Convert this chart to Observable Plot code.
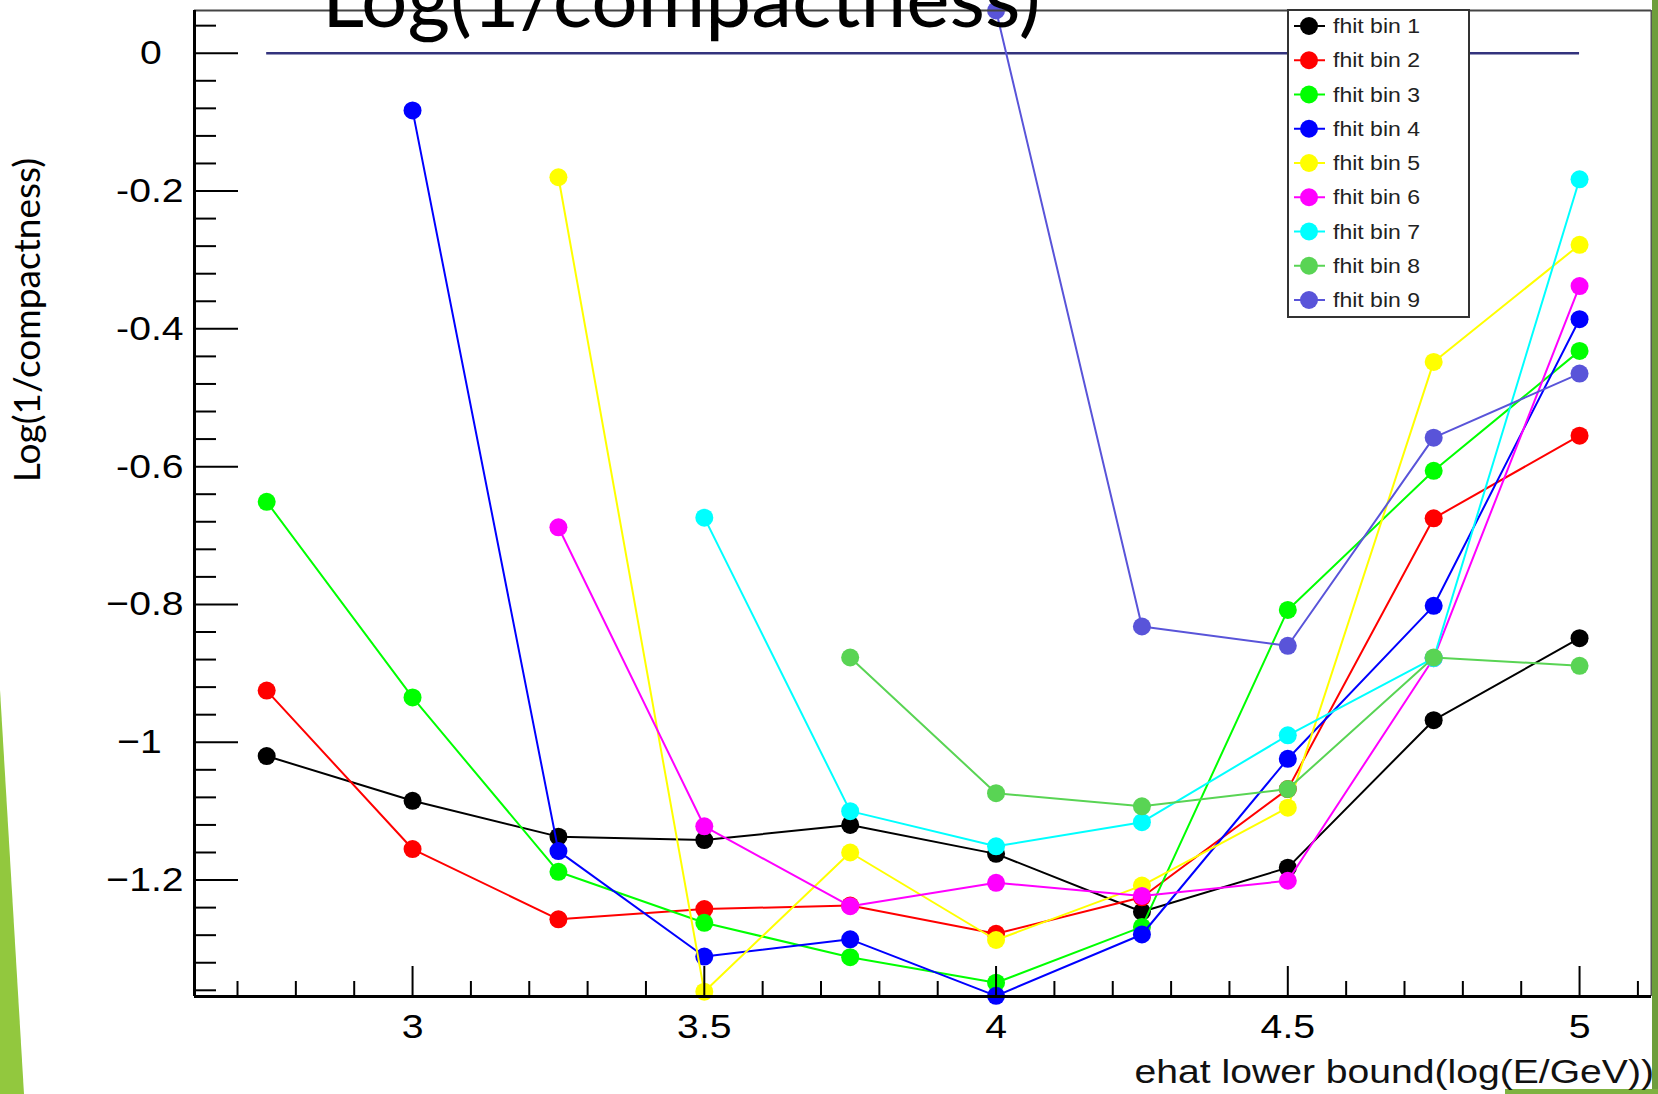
<!DOCTYPE html>
<html><head><meta charset="utf-8">
<script src="https://cdn.jsdelivr.net/npm/d3@7"></script>
<script src="https://cdn.jsdelivr.net/npm/@observablehq/plot@0.6"></script>
<style>
html,body{margin:0;padding:0;background:#fff;}
#wrap{position:relative;width:1658px;height:1094px;overflow:hidden;background:#fff;}
#wrap > svg{position:absolute;left:0;top:0;}
</style></head><body><div id="wrap"></div>
<script>
// ---- data ----
const xValues = [2.75, 3, 3.25, 3.5, 3.75, 4, 4.25, 4.5, 4.75, 5];
const bin1 = [-1.020, -1.085, -1.137, -1.142, -1.120, -1.162, -1.246, -1.182, -0.968, -0.849];
const bin2 = [-0.925, -1.155, -1.257, -1.242, -1.237, -1.278, -1.225, -1.068, -0.675, -0.555];
const bin3 = [-0.651, -0.935, -1.188, -1.262, -1.312, -1.349, -1.268, -0.808, -0.606, -0.432];
const bin4 = [null, -0.083, -1.158, -1.311, -1.286, -1.368, -1.279, -1.024, -0.802, -0.386];
const bin5 = [null, null, -0.180, -1.362, -1.160, -1.287, -1.208, -1.095, -0.448, -0.278];
const bin6 = [null, null, -0.688, -1.122, -1.238, -1.204, -1.223, -1.201, -0.878, -0.338];
const bin7 = [null, null, null, -0.674, -1.100, -1.151, -1.116, -0.990, -0.878, -0.183];
const bin8 = [null, null, null, null, -0.877, -1.074, -1.093, -1.068, -0.877, -0.889];
const bin9 = [null, null, null, null, null, 0.062, -0.832, -0.860, -0.558, -0.465];
const seriesNames = ["fhit bin 1","fhit bin 2","fhit bin 3","fhit bin 4","fhit bin 5","fhit bin 6","fhit bin 7","fhit bin 8","fhit bin 9"];
const seriesColors = ["#000000","#ff0000","#00ff00","#0000ff","#ffff00","#ff00ff","#00ffff","#59d454","#5954d9"];
const refLine = [{y: 0, x1: 2.75, x2: 5}];
const yTicks = [0, -0.2, -0.4, -0.6, -0.8, -1, -1.2];
const yTickLabels = ["0\u2007", "-0.2", "-0.4", "-0.6", "\u22120.8", "\u22121\u2007", "\u22121.2"];
const xTicks = [3, 3.5, 4, 4.5, 5];
const xTickLabels = ["3", "3.5", "4", "4.5", "5"];
const chartTitle = "Log(1/compactness)";
const yTitle = "Log(1/compactness)";
const xTitle = "ehat lower bound(log(E/GeV))";

// ---- layout ----
const W = 1658, H = 1094, mt = 10, mb = 98, ml = 194, mr = 7;
const innerW = W - ml - mr, innerH = H - mt - mb;
const xDomain = [2.6263, 5.1233];
const yDomain = [-1.369, 0.062];
const yMinor = d3.range(0.04, -1.37, -0.04).map(v => +v.toFixed(2)).filter(v => !yTicks.some(t => Math.abs(t - v) < 1e-6));
const xMinor = d3.range(2.7, 5.11, 0.1).map(v => +v.toFixed(1)).filter(v => !xTicks.some(t => Math.abs(t - v) < 1e-6));

const series = [bin1, bin2, bin3, bin4, bin5, bin6, bin7, bin8, bin9];
const rows = series.flatMap((vals, i) => vals.map((v, j) => ({x: xValues[j], y: v, s: seriesNames[i]})).filter(d => d.y != null));

const seriesMarks = seriesNames.flatMap((name, i) => {
  const d = rows.filter(r => r.s === name);
  return [
    Plot.line(d, {x: "x", y: "y", stroke: seriesColors[i], strokeWidth: 2}),
    Plot.dot(d, {x: "x", y: "y", r: 9, fill: seriesColors[i], stroke: "none"})
  ];
});

const chart = Plot.plot({
  width: W, height: H,
  marginTop: mt, marginBottom: mb, marginLeft: ml, marginRight: mr,
  x: {domain: xDomain},
  y: {domain: yDomain},
  style: {fontFamily: "'Liberation Sans', Arial, sans-serif", background: "transparent", color: "#000"},
  marks: [
    Plot.ruleY(refLine, {y: "y", x1: "x1", x2: "x2", stroke: "#33337d", strokeWidth: 2.5}),
    ...seriesMarks,
    Plot.ruleY(yMinor, {y: d => d, insetRight: innerW - 22, stroke: "#000", strokeWidth: 2}),
    Plot.ruleY(yTicks, {y: d => d, insetRight: innerW - 44, stroke: "#000", strokeWidth: 2}),
    Plot.ruleX(xMinor, {x: d => d, insetTop: innerH - 15, stroke: "#000", strokeWidth: 2}),
    Plot.ruleX(xTicks, {x: d => d, insetTop: innerH - 30, stroke: "#000", strokeWidth: 2}),
    Plot.ruleY([yDomain[1]], {stroke: "#444", strokeWidth: 2}),
    Plot.ruleX([xDomain[1]], {stroke: "#555", strokeWidth: 2}),
    Plot.ruleX([xDomain[0]], {stroke: "#000", strokeWidth: 3}),
    Plot.ruleY([yDomain[0]], {stroke: "#000", strokeWidth: 3}),
    Plot.axisY(yTicks, {tickSize: 0, tickPadding: 11, fontSize: 34, label: null, tickFormat: d => yTickLabels[yTicks.indexOf(d)]}),
    Plot.axisX(xTicks, {tickSize: 0, tickPadding: 17, fontSize: 34, label: null, tickFormat: d => xTickLabels[xTicks.indexOf(d)]})
  ]
});
const wrap = document.getElementById("wrap");
wrap.appendChild(chart);

// stretch tick labels horizontally like the reference
const STRETCH = 1.15;
chart.querySelectorAll('g[aria-label="x-axis tick label"] text, g[aria-label="y-axis tick label"] text').forEach(t => {
  const len = t.getComputedTextLength();
  t.setAttribute("textLength", (len * STRETCH).toFixed(1));
  t.setAttribute("lengthAdjust", "spacingAndGlyphs");
});

// ---- overlay: titles, legend, slide decoration ----
const ov = d3.select(wrap).append("svg").attr("width", W).attr("height", H);
// slide decoration
ov.append("polygon").attr("points", "0,690 24,1094 0,1094").attr("fill", "#92c83e");
ov.append("rect").attr("x", 1652).attr("y", 0).attr("width", 6).attr("height", H).attr("fill", "#6e9e3c");
ov.append("rect").attr("x", 1505).attr("y", 1089).attr("width", 153).attr("height", 5).attr("fill", "#7fb241");

// legend
const lg = ov.append("g");
lg.append("rect").attr("x", 1288).attr("y", 10).attr("width", 181).attr("height", 307)
  .attr("fill", "#fff").attr("stroke", "#333").attr("stroke-width", 2);
seriesNames.forEach((name, i) => {
  const cy = 26 + i * 34.25;
  lg.append("line").attr("x1", 1294).attr("x2", 1325).attr("y1", cy).attr("y2", cy)
    .attr("stroke", seriesColors[i]).attr("stroke-width", 2);
  lg.append("circle").attr("cx", 1309).attr("cy", cy).attr("r", 9).attr("fill", seriesColors[i]);
  const t = lg.append("text").attr("x", 1333).attr("y", cy + 7).attr("font-family", "'Liberation Sans', Arial, sans-serif")
    .attr("font-size", 20).attr("fill", "#222").text(name);
  const n = t.node(); n.setAttribute("textLength", (n.getComputedTextLength() * STRETCH).toFixed(1));
  n.setAttribute("lengthAdjust", "spacingAndGlyphs");
});

// axis titles
const xt = ov.append("text").attr("x", 1654).attr("y", 1083).attr("text-anchor", "end")
  .attr("font-family", "'Liberation Sans', Arial, sans-serif").attr("font-size", 34).attr("fill", "#111").text(xTitle);
{ const n = xt.node(); n.setAttribute("textLength", (n.getComputedTextLength() * STRETCH).toFixed(1)); n.setAttribute("lengthAdjust", "spacingAndGlyphs"); }
ov.append("text").attr("transform", "translate(40,320) rotate(-90)").attr("text-anchor", "middle")
  .attr("font-family", "Lato, 'Open Sans', sans-serif").attr("font-size", 37).attr("fill", "#000").text(yTitle);
// slide title (cut off at top, as in the slide)
ov.append("text").attr("x", 322).attr("y", 27).attr("font-family", "Lato, 'Open Sans', sans-serif")
  .attr("font-size", 82).attr("fill", "#000").text(chartTitle);
</script></body></html>
